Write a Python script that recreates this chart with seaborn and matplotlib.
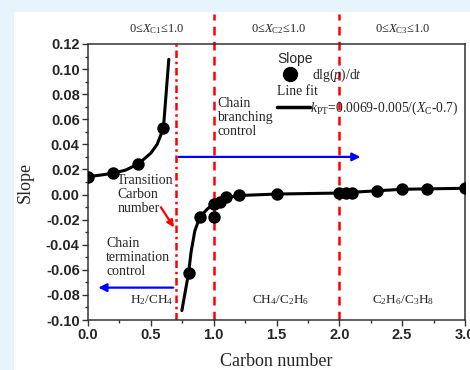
import numpy as np
import pandas as pd
import seaborn as sns
import matplotlib.pyplot as plt
from matplotlib.lines import Line2D
from matplotlib.patches import Rectangle

'''
数据：斜率散点与拟合曲线（从图中读取）
'''
pt_left_x = [0.0, 0.2, 0.4, 0.6]
pt_left_y = [0.0143, 0.017, 0.0244, 0.0528]
pt_right_x = [0.80, 0.89, 1.00, 1.00, 1.05, 1.10, 1.20, 1.50, 2.00, 2.05, 2.10, 2.30, 2.50, 2.70, 3.00]
pt_right_y = [-0.0627, -0.018, -0.0176, -0.0075, -0.0057, -0.0022, -0.0004, 0.0004,
              0.001, 0.001, 0.001, 0.003, 0.0044, 0.0047, 0.005]

fit_left_x = [0.0, 0.1, 0.2, 0.3, 0.4, 0.5, 0.55, 0.6, 0.643]
fit_left_y = [0.0143, 0.0155, 0.017, 0.0195, 0.0244, 0.033, 0.040, 0.0528, 0.1078]
fit_right_x = [0.747, 0.80, 0.82, 0.85, 0.89, 0.95, 1.00, 1.05, 1.10, 1.20, 1.50, 2.00, 2.30, 2.50, 3.00]
fit_right_y = [-0.0925, -0.0627, -0.046, -0.029, -0.018, -0.0115, -0.0075, -0.0045, -0.0025,
               -0.0008, 0.0004, 0.0012, 0.003, 0.0042, 0.005]

region_bounds = [1.0, 2.0]
transition_x = 0.7
header_x = [0.55, 1.52, 2.5]
header_labels = ['0≤$X_{\\mathrm{C1}}$≤1.0', '0≤$X_{\\mathrm{C2}}$≤1.0', '0≤$X_{\\mathrm{C3}}$≤1.0']
gas_x = [0.51, 1.53, 2.51]
gas_labels = ['H$_2$/CH$_4$', 'CH$_4$/C$_2$H$_6$', 'C$_2$H$_6$/C$_3$H$_8$']

'''
绘图字体配置
'''
sns.set_style('ticks')
plt.rcParams['font.family'] = ['Liberation Serif', 'DejaVu Serif']
plt.rcParams['mathtext.fontset'] = 'custom'
plt.rcParams['mathtext.rm'] = 'Liberation Serif'
plt.rcParams['mathtext.it'] = 'Liberation Serif:italic'
plt.rcParams['axes.unicode_minus'] = False

points = pd.DataFrame({'x': pt_left_x + pt_right_x, 'y': pt_left_y + pt_right_y})
fit_left = pd.DataFrame({'x': fit_left_x, 'y': fit_left_y})
fit_right = pd.DataFrame({'x': fit_right_x, 'y': fit_right_y})

fig = plt.figure(figsize=(4.7, 3.7), dpi=100)
fig.patch.set_facecolor('#e8f4fb')
fig.add_artist(Rectangle((14 / 470, 0), 1, 1 - 12 / 370, transform=fig.transFigure,
                         facecolor='white', edgecolor='none', zorder=0))
ax = fig.add_axes([88 / 470, 50 / 370, 377 / 470, 276 / 370])
ax.set_facecolor('white')

# 拟合曲线 + 散点
sns.lineplot(data=fit_left, x='x', y='y', sort=False, estimator=None, color='black',
             lw=2.2, ax=ax, zorder=3)
sns.lineplot(data=fit_right, x='x', y='y', sort=False, estimator=None, color='black',
             lw=2.2, ax=ax, zorder=3)
sns.scatterplot(data=points, x='x', y='y', color='black', s=80, edgecolor='black',
                linewidth=0, ax=ax, zorder=4)

ax.set_xlim(0, 3.0)
ax.set_ylim(-0.10, 0.12)

# 分区竖线
for xb in region_bounds:
    ax.plot([xb, xb], [-0.10, 0.144], color='red', lw=1.8, ls=(0, (3.5, 2.5)),
            clip_on=False, zorder=2)
ax.axvline(transition_x, color='red', lw=1.8, ls=(0, (3, 1.5, 1, 1.5)), zorder=2)

for xh, lab in zip(header_x, header_labels):
    ax.text(xh, 0.1315, lab, ha='center', va='center', fontsize=9, clip_on=False)
for xg, lab in zip(gas_x, gas_labels):
    ax.text(xg, -0.084, lab, ha='center', va='center', fontsize=9.5)

# 箭头和注释
ax.annotate('', xy=(2.19, 0.030), xytext=(0.7, 0.030),
            arrowprops=dict(arrowstyle='-|>', color='blue', lw=1.6, mutation_scale=12))
ax.annotate('', xy=(0.06, -0.0742), xytext=(0.7, -0.0742),
            arrowprops=dict(arrowstyle='-|>', color='blue', lw=1.6, mutation_scale=12))
ax.annotate('', xy=(0.696, -0.028), xytext=(0.568, -0.0083),
            arrowprops=dict(arrowstyle='-|>', color='red', lw=1.6, mutation_scale=10))

ax.text(1.03, 0.0775, 'Chain\nbranching\ncontrol', ha='left', va='top', fontsize=10,
        linespacing=1.1)
ax.text(0.232, 0.0165, 'Transition\nCarbon\nnumber', ha='left', va='top', fontsize=10,
        linespacing=1.1)
ax.text(0.144, -0.0335, 'Chain\ntermination\ncontrol', ha='left', va='top', fontsize=10,
        linespacing=1.1)

# 图例
h1 = Line2D([], [], ls='none', marker='o', color='black', markersize=10)
leg1 = ax.legend([h1], ['dlg($p$)/d$t$'], title='Slope', loc='upper left',
                 bbox_to_anchor=(0.501, 0.970), frameon=False, fontsize=9.8,
                 handlelength=2.0, handletextpad=0.6, borderpad=0, borderaxespad=0,
                 labelspacing=0, alignment='left',
                 title_fontproperties={'family': 'Liberation Sans', 'size': 10})
ax.add_artist(leg1)
h2 = Line2D([], [], color='black', lw=2.5)
ax.legend([h2], ['$k_{\\mathrm{PT}}$=0.0069-0.005/($X_{\\mathrm{C}}$-0.7)'], title='Line fit',
          loc='upper left', bbox_to_anchor=(0.501, 0.851), frameon=False, fontsize=9.8,
          handlelength=2.4, handletextpad=0.05, borderpad=0, borderaxespad=0,
          labelspacing=0.1, alignment='left', title_fontproperties={'size': 9.8})

# 坐标轴样式
ax.set_xticks(np.arange(0, 3.01, 0.5))
ax.set_yticks(np.arange(-0.10, 0.121, 0.02))
ax.set_xticks(np.arange(0.25, 3.0, 0.5), minor=True)
ax.set_yticks(np.arange(-0.09, 0.12, 0.02), minor=True)
ax.set_xticklabels(['%.1f' % v for v in np.arange(0, 3.01, 0.5)])
ax.set_yticklabels(['%.2f' % v for v in np.arange(-0.10, 0.121, 0.02)])
for lab in ax.get_xticklabels() + ax.get_yticklabels():
    lab.set_fontfamily('Liberation Sans')
    lab.set_fontweight('bold')
    lab.set_fontsize(10.5)
ax.tick_params(which='major', direction='out', length=4, width=1, color='#333333', pad=2)
ax.tick_params(which='minor', direction='out', length=2.5, width=1, color='#333333')
for sp in ax.spines.values():
    sp.set_visible(True)
    sp.set_color('#333333')
    sp.set_linewidth(1.1)

ax.set_xlabel('Carbon number', fontsize=13, labelpad=7.5)
ax.set_ylabel('Slope', fontsize=13, labelpad=9)

fig.savefig('out.png', dpi=100, facecolor=fig.get_facecolor())
